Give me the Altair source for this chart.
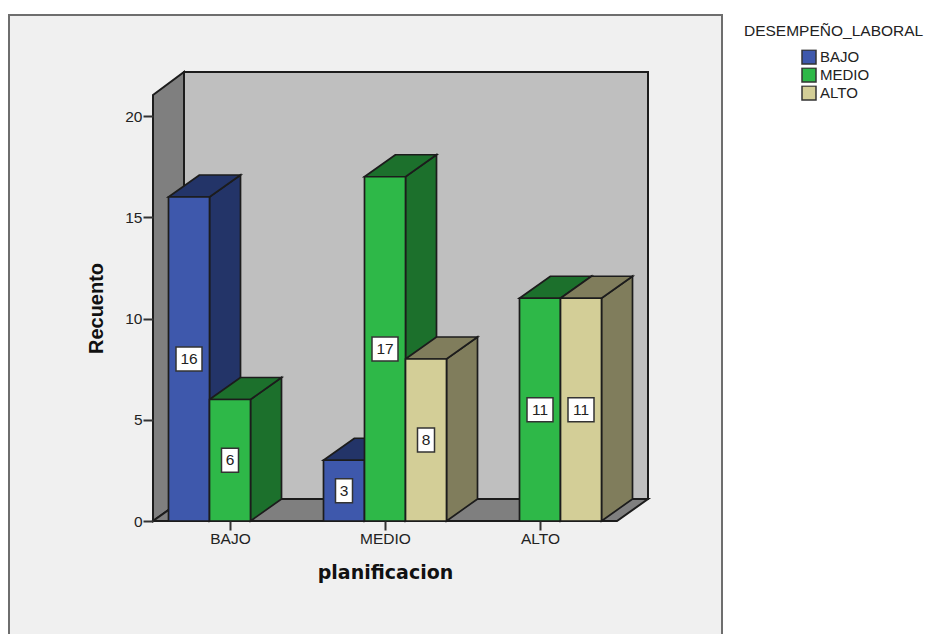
import altair as alt
import pandas as pd

# Counts per planning level and job-performance series
levels = ["BAJO", "MEDIO", "ALTO"]
series = ["BAJO", "MEDIO", "ALTO"]
counts_bajo = [16, 3, 0]
counts_medio = [6, 17, 11]
counts_alto = [0, 8, 11]

front_colors = ["#3E58AC", "#2EB848", "#D3CE97"]
shade_colors = ["#233468", "#1C702C", "#807D5C"]

W, H = 925, 634
PX_PER_COUNT = 20.25
PX_PER_LEVEL = 155.0
ORIGIN_X, ORIGIN_Y = 230, 521
DEPTH_X = 31 / PX_PER_LEVEL
DEPTH_Y = 22 / PX_PER_COUNT
BAR = 41 / PX_PER_LEVEL
LINE = "#1c1c1c"


def xu(px):
    return (px - ORIGIN_X) / PX_PER_LEVEL


def yu(px):
    return (ORIGIN_Y - px) / PX_PER_COUNT


x_scale = alt.Scale(domain=[xu(0), xu(W)], nice=False, zero=False)
y_scale = alt.Scale(domain=[yu(H), yu(0)], nice=False, zero=False)

# Both axes sit inside the view, at the front edge of the box floor
x_axis = alt.Axis(
    values=[0, 1, 2], labelExpr="['BAJO','MEDIO','ALTO'][datum.value]",
    offset=-(H - ORIGIN_Y), grid=False, domain=False, tickSize=9, tickWidth=2,
    tickColor="#333333", labelFontSize=15.5, labelColor="#222222", labelFont="Liberation Sans",
    labelPadding=1, zindex=1, title="planificacion", titleFont="DejaVu Sans",
    titleFontSize=19, titleFontWeight="bold", titleColor="#111111",
    titleX=ORIGIN_X + 155, titleY=42, titleAnchor="middle", labelFlush=False,
)
y_axis = alt.Axis(
    values=[0, 5, 10, 15, 20], offset=-153, grid=False, domain=False, tickSize=10,
    tickWidth=2, tickColor="#333333", labelFontSize=15.5, labelColor="#222222",
    labelFont="Liberation Sans", labelPadding=1, zindex=1, title="Recuento",
    titleFont="Liberation Sans", titleFontSize=20, titleFontWeight="bold", titleColor="#111111",
    titleX=-47, titleY=308,
)


def X(field):
    return alt.X(field, type="quantitative", scale=x_scale, axis=x_axis)


def Y(field):
    return alt.Y(field, type="quantitative", scale=y_scale, axis=y_axis)


# One record per drawn bar; empty combinations are skipped
bars = []
for s_i, (name, values) in enumerate(zip(series, [counts_bajo, counts_medio, counts_alto])):
    for l_i, v in enumerate(values):
        if v == 0:
            continue
        left = l_i + (s_i - 1.5) * BAR
        bars.append({
            "id": f"{levels[l_i]}-{name}", "serie": name, "s": s_i, "v": v,
            "left": left, "right": left + BAR, "mid": left + BAR / 2,
            "half": v / 2,
        })
bars_df = pd.DataFrame(bars)

side_rows, top_rows = [], []
for b in bars:
    for k in (0, 1):
        side_rows.append({"id": b["id"], "x": b["right"] + k * DEPTH_X,
                          "y": b["v"] + k * DEPTH_Y, "y2": k * DEPTH_Y,
                          "shade": shade_colors[b["s"]]})
        top_rows.append({"id": b["id"], "y": b["v"] + k * DEPTH_Y,
                         "x": b["left"] + k * DEPTH_X, "x2": b["right"] + k * DEPTH_X,
                         "shade": shade_colors[b["s"]]})
sides_df = pd.DataFrame(side_rows)
tops_df = pd.DataFrame(top_rows)

box_df = bars_df.copy()
box_df["hw"] = box_df["v"].map(lambda v: 13 if v >= 10 else 8.5) / PX_PER_LEVEL
box_df["x1"] = box_df["mid"] - box_df["hw"]
box_df["x2"] = box_df["mid"] + box_df["hw"]
box_df["y1"] = box_df["half"] - 12 / PX_PER_COUNT
box_df["y2"] = box_df["half"] + 12 / PX_PER_COUNT

# Outer panel, open at the bottom edge of the page
panel = alt.Chart(pd.DataFrame([{"x": xu(9), "x2": xu(722), "y": yu(15), "y2": yu(H + 10)}])).mark_rect(
    fill="#F0F0F0", stroke="#6E6E6E", strokeWidth=2
).encode(x=X("x"), x2="x2:Q", y=Y("y"), y2="y2:Q")

# Back wall of the box
wall = alt.Chart(pd.DataFrame([{"x": xu(184), "x2": xu(648), "y": yu(72), "y2": yu(499)}])).mark_rect(
    fill="#BFBFBF", stroke=LINE, strokeWidth=2
).encode(x=X("x"), x2="x2:Q", y=Y("y"), y2="y2:Q")

# Left wall: a sheared vertical band
left_wall = alt.Chart(pd.DataFrame([
    {"x": xu(153), "y": yu(95), "y2": yu(521)},
    {"x": xu(184), "y": yu(72), "y2": yu(499)},
])).mark_area(fill="#7F7F7F", stroke=LINE, strokeWidth=2).encode(x=X("x"), y=Y("y"), y2="y2:Q")

# Floor: a sheared horizontal band
floor = alt.Chart(pd.DataFrame([
    {"y": yu(521), "x": xu(153), "x2": xu(617)},
    {"y": yu(499), "x": xu(184), "x2": xu(648)},
])).mark_area(orient="horizontal", fill="#7F7F7F", stroke=LINE, strokeWidth=2).encode(
    x=X("x"), x2="x2:Q", y=Y("y")
)

side_layer = alt.Chart(sides_df).mark_area(stroke=LINE, strokeWidth=1.7).encode(
    x=X("x"), y=Y("y"), y2="y2:Q", detail="id:N", color=alt.Color("shade:N", scale=None)
)
top_layer = alt.Chart(tops_df).mark_area(orient="horizontal", stroke=LINE, strokeWidth=1.7).encode(
    x=X("x"), x2="x2:Q", y=Y("y"), detail="id:N", color=alt.Color("shade:N", scale=None)
)

front_layer = alt.Chart(bars_df).mark_bar(stroke=LINE, strokeWidth=1.7).encode(
    x=X("left"),
    x2="right:Q",
    y=Y("v"),
    y2=alt.Y2(datum=0),
    color=alt.Color("serie:N", scale=alt.Scale(domain=series, range=front_colors), sort=series,
                    legend=alt.Legend(
                        title="DESEMPEÑO_LABORAL", orient="none", legendX=744, legendY=24,
                        titleFont="Liberation Sans", titleFontSize=15.5, titleFontWeight="normal",
                        titleColor="#222222", titlePadding=10, labelFont="Liberation Sans",
                        labelFontSize=15, labelColor="#222222", labelOffset=3, symbolType="square",
                        symbolSize=196, symbolStrokeColor="#333333", symbolStrokeWidth=1.5,
                        symbolOffset=57, clipHeight=15, rowPadding=2,
                    )),
)

box_layer = alt.Chart(box_df).mark_rect(fill="white", stroke="#333333", strokeWidth=1.5).encode(
    x=X("x1"), x2="x2:Q", y=Y("y1"), y2="y2:Q",
)
text_layer = alt.Chart(bars_df).mark_text(
    font="Liberation Sans", fontSize=15.5, color="#222222", align="center", baseline="middle"
).encode(x=X("mid"), y=Y("half"), text="v:Q")

chart = alt.layer(
    panel, wall, left_wall, floor, side_layer, top_layer, front_layer, box_layer, text_layer
).resolve_scale(color="independent").properties(
    width=W, height=H, padding=0, autosize=alt.AutoSizeParams(type="none"), background="white"
).configure_view(stroke=None)

chart.save("out.html", embed_options={"renderer": "svg", "actions": False})
